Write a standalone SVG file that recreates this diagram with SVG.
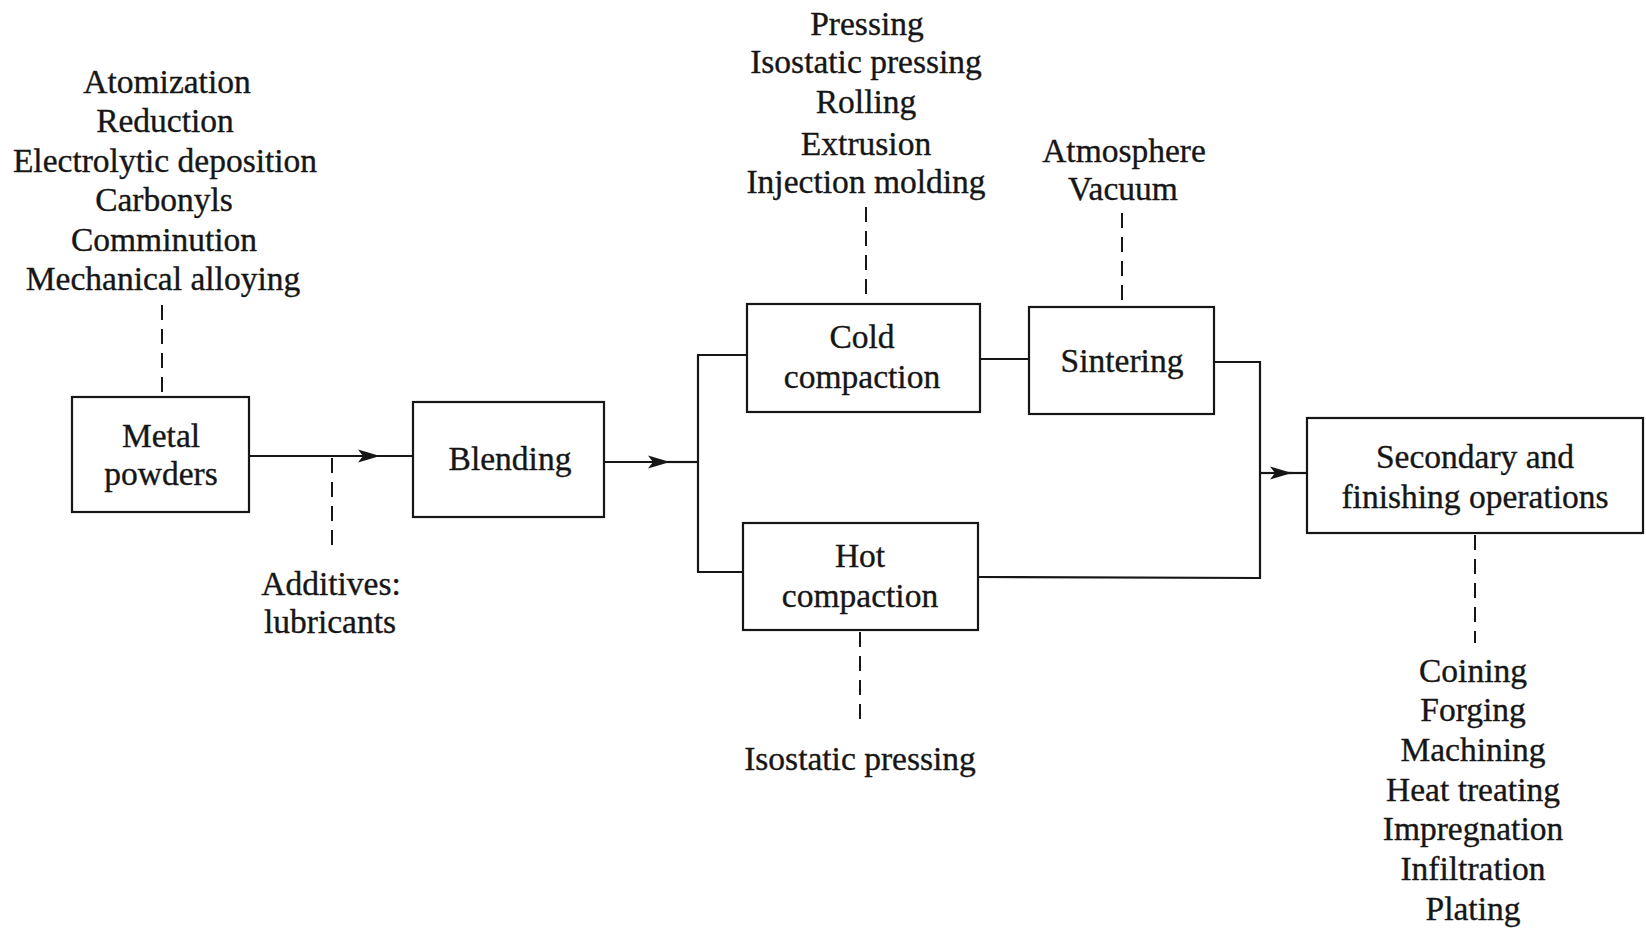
<svg xmlns="http://www.w3.org/2000/svg" width="1646" height="932" viewBox="0 0 1646 932">
<style>
.t{font-family:"Liberation Serif","Times New Roman",serif;font-size:33.5px;text-anchor:middle;fill:#161616;stroke:#161616;stroke-width:0.35}
.box{fill:none;stroke:#161616;stroke-width:2.2}
.ln{fill:none;stroke:#161616;stroke-width:2.2}
.dash{fill:none;stroke:#161616;stroke-width:2;stroke-dasharray:15 9}
</style>
<defs>
<marker id="arr" markerUnits="userSpaceOnUse" viewBox="0 -7 22 14" refX="22" refY="0" markerWidth="22" markerHeight="14" orient="auto">
<path d="M0,-6.5 L22,0 L0,6.5 L5,0 z" fill="#161616"/>
</marker>
</defs>
<rect width="1646" height="932" fill="#ffffff"/>

<g id="connectors">
<line class="ln" x1="249" y1="456" x2="380" y2="456" marker-end="url(#arr)"/>
<line class="ln" x1="376" y1="456" x2="413" y2="456"/>
<line class="ln" x1="604" y1="462" x2="670" y2="462" marker-end="url(#arr)"/>
<line class="ln" x1="666" y1="462" x2="698" y2="462"/>
<polyline class="ln" points="747,355 698,355 698,572 743,572"/>
<line class="ln" x1="980" y1="359" x2="1029" y2="359"/>
<polyline class="ln" points="1214,362 1260,362 1260,578 978,577"/>
<line class="ln" x1="1260" y1="473" x2="1292" y2="473" marker-end="url(#arr)"/>
<line class="ln" x1="1288" y1="473" x2="1307" y2="473"/>
<line class="dash" x1="162" y1="305" x2="162" y2="397"/>
<line class="dash" x1="332" y1="458" x2="332" y2="553"/>
<line class="dash" x1="866" y1="207" x2="866" y2="304"/>
<line class="dash" x1="1122" y1="213" x2="1122" y2="307"/>
<line class="dash" x1="860" y1="632" x2="860" y2="727"/>
<line class="dash" x1="1475" y1="535" x2="1475" y2="643"/>
</g>

<g id="powder-sources">
<text class="t" x="167" y="93">Atomization</text>
<text class="t" x="165" y="132">Reduction</text>
<text class="t" x="165" y="172">Electrolytic deposition</text>
<text class="t" x="164" y="211">Carbonyls</text>
<text class="t" x="164" y="251">Comminution</text>
<text class="t" x="163" y="290">Mechanical alloying</text>
</g>

<g id="metal-powders">
<rect class="box" x="72" y="397" width="177" height="115"/>
<text class="t" x="161" y="447">Metal</text>
<text class="t" x="161" y="485">powders</text>
</g>

<g id="additives">
<text class="t" x="331" y="595">Additives:</text>
<text class="t" x="330" y="633">lubricants</text>
</g>

<g id="blending">
<rect class="box" x="413" y="402" width="191" height="115"/>
<text class="t" x="510" y="470">Blending</text>
</g>

<g id="cold-methods">
<text class="t" x="867" y="35">Pressing</text>
<text class="t" x="866" y="73">Isostatic pressing</text>
<text class="t" x="866" y="113">Rolling</text>
<text class="t" x="866" y="155">Extrusion</text>
<text class="t" x="866" y="193">Injection molding</text>
</g>

<g id="cold-compaction">
<rect class="box" x="747" y="304" width="233" height="108"/>
<text class="t" x="862" y="348">Cold</text>
<text class="t" x="862" y="388">compaction</text>
</g>

<g id="sintering-conditions">
<text class="t" x="1124" y="162">Atmosphere</text>
<text class="t" x="1123" y="200">Vacuum</text>
</g>

<g id="sintering">
<rect class="box" x="1029" y="307" width="185" height="107"/>
<text class="t" x="1122" y="372">Sintering</text>
</g>

<g id="hot-compaction">
<rect class="box" x="743" y="523" width="235" height="107"/>
<text class="t" x="860" y="567">Hot</text>
<text class="t" x="860" y="607">compaction</text>
</g>

<g id="hot-methods">
<text class="t" x="860" y="770">Isostatic pressing</text>
</g>

<g id="secondary">
<rect class="box" x="1307" y="418" width="336" height="115"/>
<text class="t" x="1475" y="468">Secondary and</text>
<text class="t" x="1475" y="508">finishing operations</text>
</g>

<g id="finishing-methods">
<text class="t" x="1473" y="682">Coining</text>
<text class="t" x="1473" y="721">Forging</text>
<text class="t" x="1473" y="761">Machining</text>
<text class="t" x="1473" y="801">Heat treating</text>
<text class="t" x="1473" y="840">Impregnation</text>
<text class="t" x="1473" y="880">Infiltration</text>
<text class="t" x="1473" y="920">Plating</text>
</g>
</svg>
